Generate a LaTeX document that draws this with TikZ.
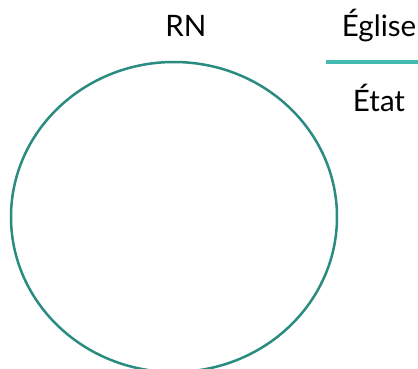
\documentclass[tikz,border=0pt]{standalone}
\usepackage{fontspec}
\setmainfont{Lato}
\usepackage{tikz}
\usetikzlibrary{positioning, shapes.geometric}
\definecolor{ringteal}{HTML}{2A8C80}
\definecolor{barteal}{HTML}{44BBB1}

\begin{document}
\begin{tikzpicture}[x = 1pt, y = -1pt,
  lbl/.style = {inner sep = 0pt, anchor = base, font = \fontsize{29.5}{34}\selectfont},
  ring/.style = {draw = ringteal, line width = 2.5pt, ellipse, inner sep = 0pt}]
\useasboundingbox (0,0) rectangle (418,369);
\node[ring, minimum width = 326pt, minimum height = 310pt] (R) at (174,217) {};
\node[lbl] (RN) at (186,37) {RN};
\node[lbl] (Eglise) at (379,37) {Église};
\node[lbl, below = 75pt of Eglise.base, anchor = base] (Etat) {État};
\coordinate (barL) at (326,62);
\coordinate (barR) at (418,62);
\draw[barteal, line width = 3.5pt] (barL) -- (barR);
\end{tikzpicture}
\end{document}
